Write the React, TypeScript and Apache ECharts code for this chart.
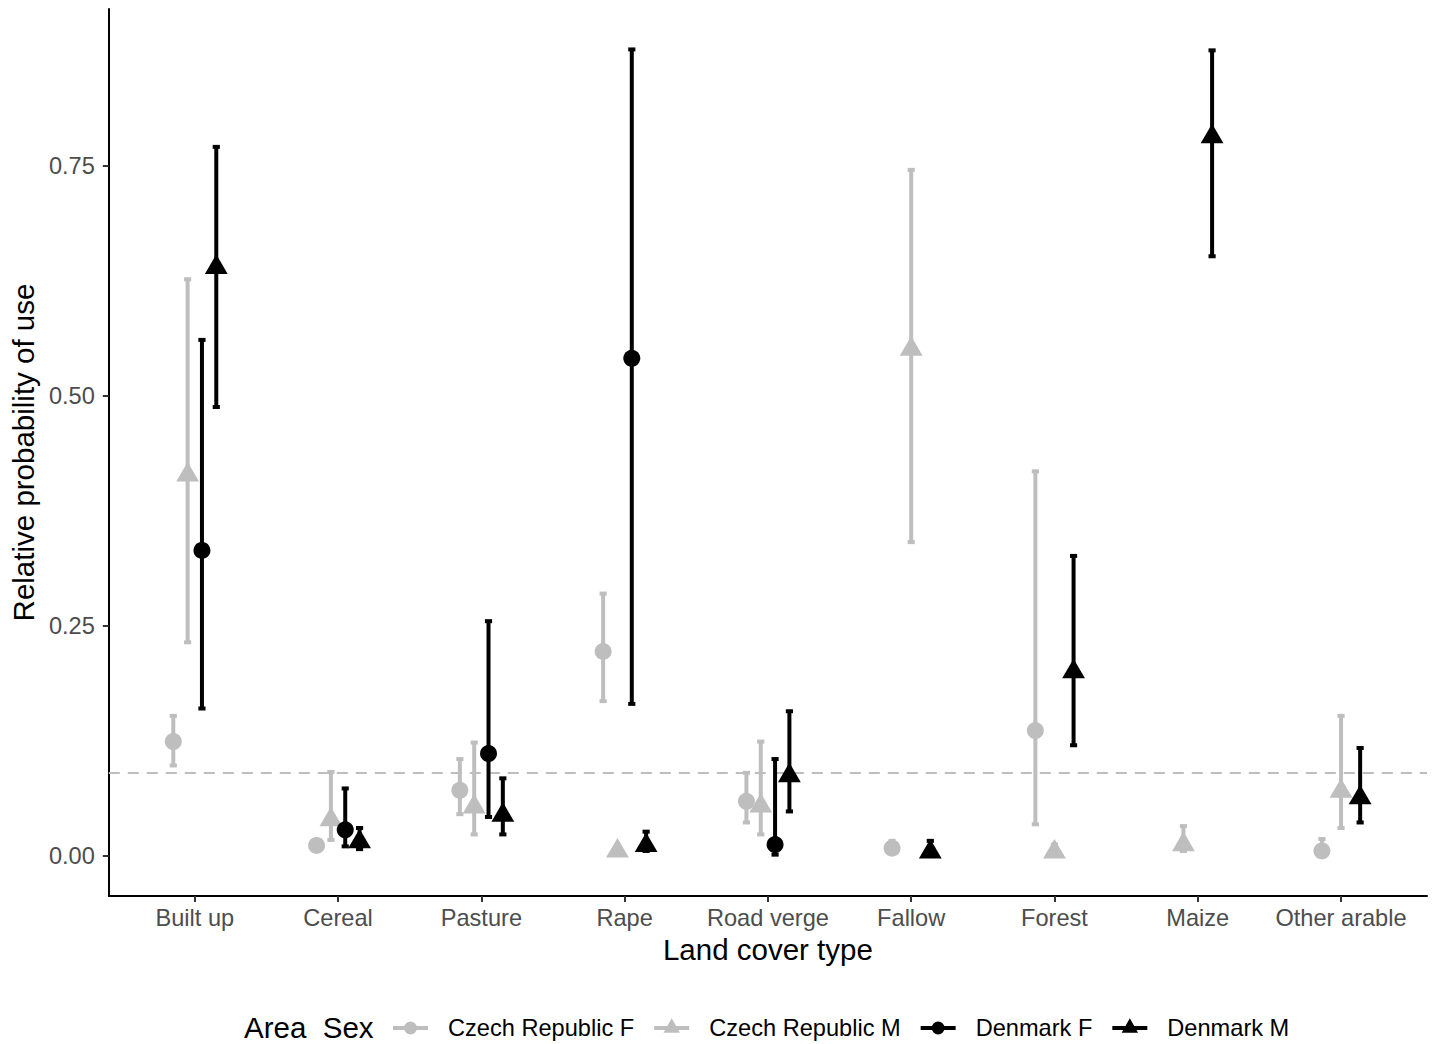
import React, { useEffect, useRef } from "react";
import * as echarts from "echarts";

const categories = ["Built up", "Cereal", "Pasture", "Rape", "Road verge", "Fallow", "Forest", "Maize", "Other arable"];
const groupNames = ["Czech Republic F", "Czech Republic M", "Denmark F", "Denmark M"];

const czechF = [0.124, 0.011, 0.071, 0.222, 0.059, 0.008, 0.136, null, 0.005];
const czechFLower = [0.098, 0.008, 0.045, 0.168, 0.036, 0.003, 0.034, null, 0.002];
const czechFUpper = [0.152, 0.014, 0.105, 0.285, 0.090, 0.016, 0.418, null, 0.018];

const czechM = [0.414, 0.039, 0.053, 0.005, 0.054, 0.551, 0.004, 0.012, 0.070];
const czechMLower = [0.232, 0.017, 0.023, 0.002, 0.023, 0.341, 0.001, 0.005, 0.030];
const czechMUpper = [0.627, 0.091, 0.123, 0.009, 0.124, 0.746, 0.012, 0.032, 0.152];

const denmarkF = [0.332, 0.028, 0.111, 0.541, 0.012, null, null, null, null];
const denmarkFLower = [0.160, 0.010, 0.042, 0.165, 0.001, null, null, null, null];
const denmarkFUpper = [0.561, 0.073, 0.255, 0.877, 0.105, null, null, null, null];

const denmarkM = [0.640, 0.015, 0.044, 0.011, 0.087, 0.004, 0.200, 0.782, 0.063];
const denmarkMLower = [0.488, 0.007, 0.023, 0.005, 0.048, 0.001, 0.120, 0.652, 0.036];
const denmarkMUpper = [0.771, 0.030, 0.084, 0.026, 0.157, 0.016, 0.326, 0.876, 0.117];

const yTicks = [0, 0.25, 0.5, 0.75];
const referenceLine = 0.091;

const values = [czechF, czechM, denmarkF, denmarkM];
const lowers = [czechFLower, czechMLower, denmarkFLower, denmarkMLower];
const uppers = [czechFUpper, czechMUpper, denmarkFUpper, denmarkMUpper];
const colors = ["#bebebe", "#bebebe", "#000000", "#000000"];
const shapes = ["circle", "triangle", "circle", "triangle"];

const FONT = "'Liberation Sans', Arial, Helvetica, sans-serif";
const DODGE = 0.4;
const CAP_HALF = 0.025;

const MARKERS = "M0,0h0.01v0.01h-0.01z M49.99,25.99h0.01v0.01h-0.01z ";
const BAR = "M0,11h35v4h-35z ";
const circleIcon = "path://" + MARKERS + BAR + "M11,13a6.5,6.5 0 1,1 13,0a6.5,6.5 0 1,1 -13,0z";
const triIcon = "path://" + MARKERS + BAR + "M17.5,3.3L25.7,17.8L9.3,17.8z";

function buildSeriesData(g: number) {
  const out: any[] = [];
  categories.forEach((_, ci) => {
    const v = values[g][ci];
    if (v == null) return;
    const present = values.map((arr) => arr[ci] != null);
    const n = present.filter(Boolean).length;
    let slot = 0;
    for (let k = 0; k < g; k++) if (present[k]) slot++;
    const offset = (slot - (n - 1) / 2) * (DODGE / n);
    out.push([ci + offset, v, lowers[g][ci], uppers[g][ci]]);
  });
  return out;
}

export default function App() {
  const ref = useRef<HTMLDivElement>(null);
  useEffect(() => {
    if (!ref.current) return;
    const chart = echarts.init(ref.current, null, { renderer: "svg" });
    const series: any[] = groupNames.map((name, g) => ({
      name,
      type: "custom",
      itemStyle: { color: colors[g] },
      data: buildSeriesData(g),
      z: 3 + g,
      renderItem: (params: any, api: any) => {
        const x = api.value(0);
        const v = api.value(1);
        const lo = api.value(2);
        const hi = api.value(3);
        const p = api.coord([x, v]);
        const pl = api.coord([x, lo]);
        const ph = api.coord([x, hi]);
        const hw = api.size([CAP_HALF, 0])[0];
        const col = colors[g];
        const ls = { stroke: col, lineWidth: 4, lineCap: "butt" };
        const children: any[] = [
          { type: "line", shape: { x1: p[0], y1: ph[1], x2: p[0], y2: pl[1] }, style: ls },
          { type: "line", shape: { x1: p[0] - hw, y1: ph[1], x2: p[0] + hw, y2: ph[1] }, style: ls },
          { type: "line", shape: { x1: p[0] - hw, y1: pl[1], x2: p[0] + hw, y2: pl[1] }, style: ls },
        ];
        if (shapes[g] === "circle") {
          children.push({ type: "circle", shape: { cx: p[0], cy: p[1], r: 8.5 }, style: { fill: col } });
        } else {
          children.push({
            type: "polygon",
            shape: { points: [[p[0], p[1] - 13], [p[0] + 11.4, p[1] + 6.6], [p[0] - 11.4, p[1] + 6.6]] },
            style: { fill: col },
          });
        }
        return { type: "group", children };
      },
    }));
    series.unshift({
      name: "ref",
      type: "line",
      data: [],
      z: 1,
      markLine: {
        silent: true,
        symbol: "none",
        label: { show: false },
        lineStyle: { color: "#bebebe", width: 2, type: [11, 8] },
        data: [{ yAxis: referenceLine }],
      },
    });

    chart.setOption({
      animation: false,
      backgroundColor: "#ffffff",
      grid: { left: 107, right: 6, top: 9, bottom: 148 },
      xAxis: {
        type: "value",
        min: -0.6,
        max: 8.6,
        name: "Land cover type",
        nameLocation: "middle",
        nameGap: 38,
        nameTextStyle: { fontSize: 29.5, color: "#000", fontFamily: FONT },
        axisLine: { show: true, onZero: false, lineStyle: { color: "#000", width: 2 } },
        axisTick: { show: true, customValues: categories.map((_, i) => i), length: 6, lineStyle: { color: "#333", width: 2 } },
        axisLabel: {
          customValues: categories.map((_, i) => i),
          formatter: (val: number) => categories[Math.round(val)] ?? "",
          fontSize: 23.6,
          color: "#4d4d4d",
          fontFamily: FONT,
          margin: 10,
        },
        splitLine: { show: false },
      },
      yAxis: {
        type: "value",
        min: -0.044,
        max: 0.921,
        name: "Relative probability of use",
        nameLocation: "middle",
        nameGap: 65,
        nameRotate: 90,
        nameTextStyle: { fontSize: 29.5, color: "#000", fontFamily: FONT },
        axisLine: { show: true, onZero: false, lineStyle: { color: "#000", width: 2 } },
        axisTick: { show: true, customValues: yTicks, length: 6, lineStyle: { color: "#333", width: 2 } },
        axisLabel: {
          customValues: yTicks,
          formatter: (val: number) => val.toFixed(2),
          fontSize: 23.6,
          color: "#4d4d4d",
          fontFamily: FONT,
          margin: 14,
        },
        splitLine: { show: false },
      },
      legend: {
        left: 393,
        top: 1015,
        padding: 0,
        orient: "horizontal",
        itemWidth: 50,
        itemHeight: 26,
        itemGap: 20,
        selectedMode: false,
        textStyle: { fontSize: 23.6, color: "#000", fontFamily: FONT },
        data: groupNames.map((n, i) => ({
          name: n,
          icon: shapes[i] === "circle" ? circleIcon : triIcon,
          itemStyle: { color: colors[i], borderWidth: 0 },
        })),
      },
      graphic: [
        {
          type: "text",
          left: 244,
          top: 1012,
          style: { text: "Area\u00a0 Sex", fontSize: 29.5, fill: "#000", fontFamily: FONT },
        },
      ],
      series,
    });
    return () => chart.dispose();
  }, []);
  return <div ref={ref} style={{ position: "absolute", left: 0, top: 0, width: 1433, height: 1044 }} />;
}
